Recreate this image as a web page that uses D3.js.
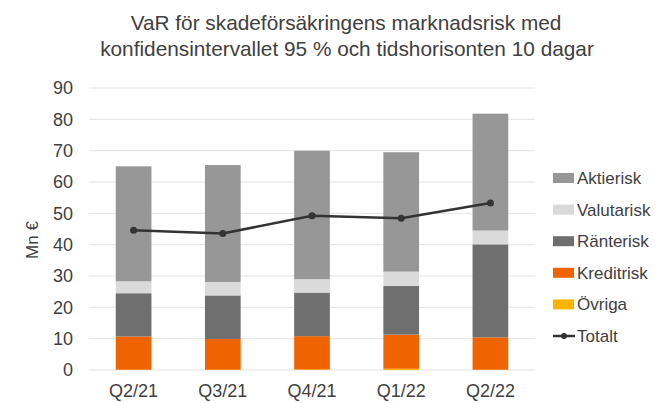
<!DOCTYPE html>
<html>
<head>
<meta charset="utf-8">
<script src="https://cdn.jsdelivr.net/npm/d3@7"></script>
<style>
  body { margin: 0; background: #fff; }
  text { font-family: "Liberation Sans", Arial, sans-serif; fill: #404040; }
</style>
</head>
<body>
<svg id="chart" width="657" height="403"></svg>
<script>
// data (Mn €)
const quarters = ["Q2/21", "Q3/21", "Q4/21", "Q1/22", "Q2/22"];
const ovriga = [0.1, 0.1, 0.2, 0.4, 0.1];
const kreditrisk = [10.6, 9.8, 10.6, 10.9, 10.3];
const ranterisk = [13.8, 13.9, 13.9, 15.5, 29.7];
const valutarisk = [3.8, 4.3, 4.3, 4.6, 4.4];
const aktierisk = [36.7, 37.3, 41.0, 38.1, 37.3];
const totalt = [44.6, 43.6, 49.2, 48.4, 53.3];
const yTicks = [0, 10, 20, 30, 40, 50, 60, 70, 80, 90];

const seriesNames = ["Övriga", "Kreditrisk", "Ränterisk", "Valutarisk", "Aktierisk"];
const seriesVals = [ovriga, kreditrisk, ranterisk, valutarisk, aktierisk];
const colors = ["#ffb400", "#f06400", "#6f6f6f", "#dadada", "#979797"];

const svg = d3.select("#chart");
const margin = {left: 89, right: 122, top: 88, bottom: 33};
const W = 657, H = 403;

// table for d3.stack
const rows = quarters.map((q, i) => {
  let r = {q: q};
  seriesNames.forEach((s, k) => r[s] = seriesVals[k][i]);
  return r;
});
const stacked = d3.stack().keys(seriesNames)(rows);

const x = d3.scaleBand().domain(quarters)
  .range([margin.left, W - margin.right])
  .paddingInner(0.6).paddingOuter(0.3);
const y = d3.scaleLinear().domain([0, 90]).range([H - margin.bottom, margin.top]);

// title
svg.append("text").attr("x", 346).attr("y", 30).attr("text-anchor", "middle")
  .style("font-size", "20.8px").text("VaR för skadeförsäkringens marknadsrisk med");
svg.append("text").attr("x", 347).attr("y", 56).attr("text-anchor", "middle")
  .style("font-size", "20.8px").text("konfidensintervallet 95 % och tidshorisonten 10 dagar");

// grid
svg.append("g").selectAll("line").data(yTicks).join("line")
  .attr("x1", margin.left).attr("x2", W - margin.right)
  .attr("y1", d => y(d)).attr("y2", d => y(d))
  .attr("stroke", "#e3e3e3").attr("stroke-width", 1);

// y axis
const yAxis = svg.append("g").attr("transform", `translate(${margin.left},0)`)
  .call(d3.axisLeft(y).tickValues(yTicks).tickSize(0).tickPadding(16));
yAxis.select(".domain").remove();
yAxis.selectAll("text").style("font-size", "18px").style("font-family", "Liberation Sans, Arial, sans-serif").attr("fill", "#404040");

svg.append("text").attr("transform", "translate(38,240) rotate(-90)")
  .attr("text-anchor", "middle").style("font-size", "17px").text("Mn €");

// bars
svg.append("g").selectAll("g").data(stacked).join("g")
  .attr("fill", (d, k) => colors[k])
  .selectAll("rect").data(d => d).join("rect")
  .attr("x", d => x(d.data.q))
  .attr("width", x.bandwidth())
  .attr("y", d => y(d[1]))
  .attr("height", d => y(d[0]) - y(d[1]));

// x axis
const xAxis = svg.append("g").attr("transform", `translate(0,${H - margin.bottom})`)
  .call(d3.axisBottom(x).tickSize(0).tickPadding(14));
xAxis.select(".domain").remove();
xAxis.selectAll("text").style("font-size", "18px").style("font-family", "Liberation Sans, Arial, sans-serif").attr("fill", "#404040");

// totalt line
const line = d3.line().x((d, i) => x(quarters[i]) + x.bandwidth() / 2).y(d => y(d));
svg.append("path").datum(totalt).attr("d", line)
  .attr("fill", "none").attr("stroke", "#333").attr("stroke-width", 2.5);
svg.append("g").selectAll("circle").data(totalt).join("circle")
  .attr("cx", (d, i) => x(quarters[i]) + x.bandwidth() / 2)
  .attr("cy", d => y(d)).attr("r", 3.5).attr("fill", "#333");

// legend
const legendItems = seriesNames.slice().reverse().map(s => ({name: s, color: colors[seriesNames.indexOf(s)]}));
legendItems.push({name: "Totalt", line: true});
const lg = svg.append("g").selectAll("g").data(legendItems).join("g")
  .attr("transform", (d, i) => `translate(553,${178 + i * 31.6})`);
lg.filter(d => !d.line).append("rect")
  .attr("x", 0).attr("y", -5).attr("width", 21).attr("height", 10)
  .attr("fill", d => d.color);
lg.filter(d => d.line).append("line")
  .attr("x1", 0).attr("x2", 22).attr("y1", 0).attr("y2", 0)
  .attr("stroke", "#333").attr("stroke-width", 2.5);
lg.filter(d => d.line).append("circle")
  .attr("cx", 11).attr("cy", 0).attr("r", 3).attr("fill", "#333");
lg.append("text").attr("x", 24).attr("y", 6)
  .style("font-size", "17px").text(d => d.name);
</script>
</body>
</html>
